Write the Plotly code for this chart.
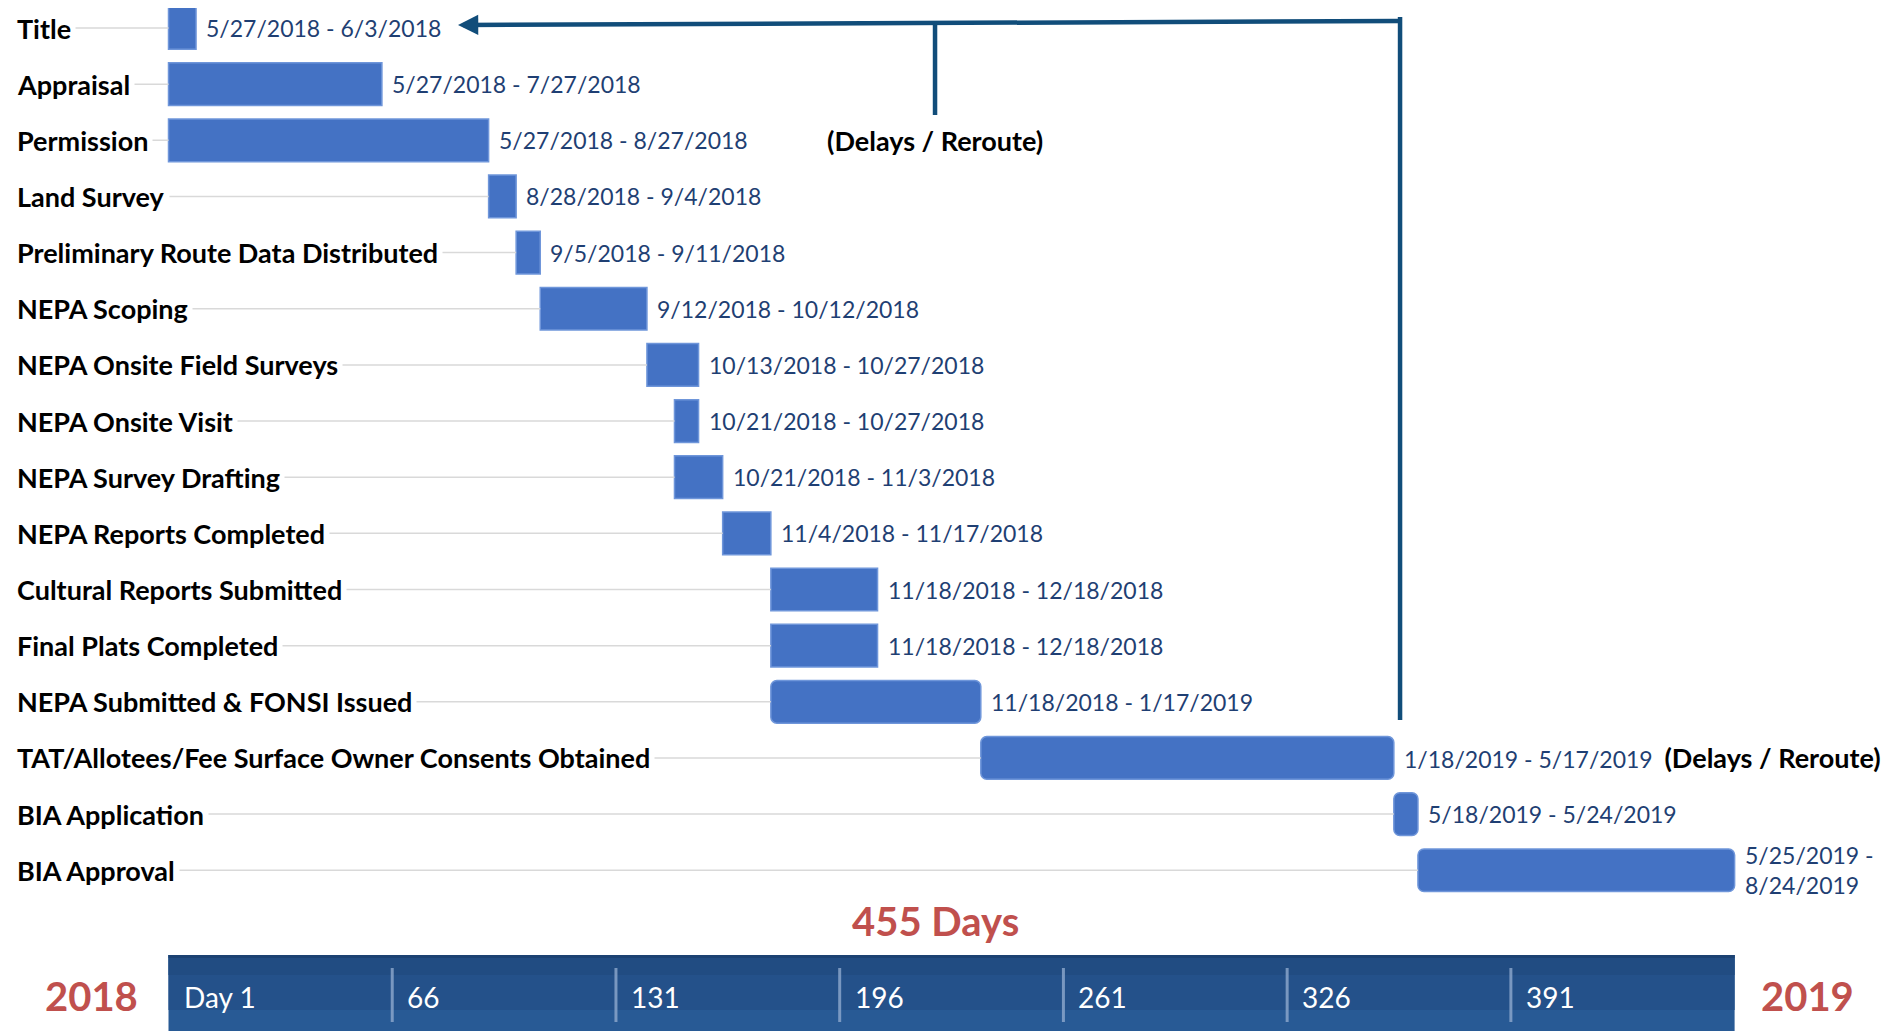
import pandas as pd
import plotly.graph_objects as go

# ---------------- data ----------------
TASKS = [
    "Title", "Appraisal", "Permission", "Land Survey",
    "Preliminary Route Data Distributed", "NEPA Scoping",
    "NEPA Onsite Field Surveys", "NEPA Onsite Visit", "NEPA Survey Drafting",
    "NEPA Reports Completed", "Cultural Reports Submitted", "Final Plats Completed",
    "NEPA Submitted & FONSI Issued",
    "TAT/Allotees/Fee Surface Owner Consents Obtained",
    "BIA Application", "BIA Approval",
]
START = [
    "2018-05-27", "2018-05-27", "2018-05-27", "2018-08-28",
    "2018-09-05", "2018-09-12", "2018-10-13", "2018-10-21",
    "2018-10-21", "2018-11-04", "2018-11-18", "2018-11-18",
    "2018-11-18", "2019-01-18", "2019-05-18", "2019-05-25",
]
END = [
    "2018-06-03", "2018-07-27", "2018-08-27", "2018-09-04",
    "2018-09-11", "2018-10-12", "2018-10-27", "2018-10-27",
    "2018-11-03", "2018-11-17", "2018-12-18", "2018-12-18",
    "2019-01-17", "2019-05-17", "2019-05-24", "2019-08-24",
]
DAY_TICKS = [0, 65, 130, 195, 260, 325, 390]
DAY_TICK_TEXT = ["Day 1", "66", "131", "196", "261", "326", "391"]
YEAR_LEFT, YEAR_RIGHT = "2018", "2019"
NOTE_TEXT = "(Delays / Reroute)"
NOTE_TASK = "TAT/Allotees/Fee Surface Owner Consents Obtained"

# ---------------- style / layout constants (reference-pixel based) ----------------
PAGE_W, PAGE_H = 1896, 1031
OFF = 8                         # browser body margin
W, H = PAGE_W - OFF, PAGE_H - OFF
PLOT_TOP_PX, PLOT_BOTTOM_PX = OFF, 908
DAY0_PX = 168.5                 # page pixel of day 0
PX_PER_DAY = 3.442
ROW0_PX, ROW_PX = 28, 56.15     # page pixel of first row centre, row pitch
MID_DAY = 222.7
WRAP_TASKS = {"BIA Approval"}
ROUND_TASKS = {"NEPA Submitted & FONSI Issued", NOTE_TASK, "BIA Application", "BIA Approval"}
BAR_COLOR = "#4472C4"
BAR_EDGE = "#6F96DA"
DATE_COLOR = "#1F3F73"
RED = "#C0504D"
NAVY = "#114D7A"
BAND = "#24518A"
FONT = "Lato"
LABEL_SIZE = 27
DATE_SIZE = 23


def py(px):   # page pixel from top -> paper y
    return (PLOT_BOTTOM_PX - px) / (PLOT_BOTTOM_PX - PLOT_TOP_PX)


def pxp(px):  # page pixel from left -> paper x
    return (px - OFF) / W


def dx(px):   # page pixel from left -> day value
    return (px - DAY0_PX) / PX_PER_DAY


start_dt = pd.to_datetime(pd.Series(START))
end_dt = pd.to_datetime(pd.Series(END))
origin = start_dt.min()
start_day = (start_dt - origin).dt.days.tolist()
end_day = ((end_dt - origin).dt.days + 1).tolist()      # inclusive end
dur = [e - s for s, e in zip(start_day, end_day)]
total_days = max(end_day)


def fmt(d):
    return f"{d.month}/{d.day}/{d.year}"


x_range = [dx(OFF), dx(PAGE_W)]
y_range = [(PLOT_BOTTOM_PX - ROW0_PX) / ROW_PX, (PLOT_TOP_PX - ROW0_PX) / ROW_PX]

fig = go.Figure()

# leader lines from labels to bars
line_start = dx(20)
gx, gy = [], []
for t, s in zip(TASKS, start_day):
    gx += [line_start, s, None]
    gy += [t, t, None]
fig.add_trace(go.Scatter(x=gx, y=gy, mode="lines", line=dict(color="#D9D9D9", width=1.5),
                         hoverinfo="skip", showlegend=False))

# bars (square and rounded)
for rounded in (False, True):
    idx = [i for i, t in enumerate(TASKS) if (t in ROUND_TASKS) == rounded]
    fig.add_trace(go.Bar(
        orientation="h",
        y=[TASKS[i] for i in idx],
        x=[dur[i] for i in idx],
        base=[start_day[i] for i in idx],
        width=0.76,
        marker=dict(color=BAR_COLOR, line=dict(color=BAR_EDGE, width=1.5),
                    cornerradius=6 if rounded else 0),
        showlegend=False, hoverinfo="skip",
    ))

ann = []
# category labels
for t in TASKS:
    ann.append(dict(x=pxp(12), xref="paper", y=t, yref="y", text=f"<b>{t}</b>",
                    xanchor="left", yanchor="middle", showarrow=False,
                    bgcolor="white", borderpad=4,
                    font=dict(family=FONT, size=LABEL_SIZE, color="black")))
# date labels
for t, s, e, ed in zip(TASKS, start_dt, end_dt, end_day):
    sep = " -<br>" if t in WRAP_TASKS else " - "
    txt = f"{fmt(s)}{sep}{fmt(e)}"
    if t == NOTE_TASK:
        txt += (f"  <b><span style='color:black;font-size:{LABEL_SIZE}px'>"
                f"{NOTE_TEXT}</span></b>")
    ann.append(dict(x=ed, xref="x", y=t, yref="y", text=txt, xanchor="left",
                    yanchor="middle", align="left", xshift=8, showarrow=False,
                    font=dict(family=FONT, size=DATE_SIZE, color=DATE_COLOR)))
# upper note
ann.append(dict(x=MID_DAY, xref="x", y=TASKS[2], yref="y", text=f"<b>{NOTE_TEXT}</b>",
                xanchor="center", yanchor="middle", showarrow=False,
                font=dict(family=FONT, size=LABEL_SIZE, color="black")))

# arrow back to the first task
vert_x = end_day[TASKS.index(NOTE_TASK)] + 1.8
tip_x = dx(458)
ann.append(dict(x=tip_x, xref="x", y=py(25), yref="paper", ax=vert_x, axref="x",
                ay=-4, ayref="pixel", text="", showarrow=True, arrowhead=2,
                arrowsize=0.9, arrowwidth=4.5, arrowcolor=NAVY, standoff=0))

# total days
ann.append(dict(x=MID_DAY, xref="x", y=py(921), yref="paper", text=f"<b>{total_days} Days</b>",
                xanchor="center", yanchor="middle", showarrow=False,
                font=dict(family=FONT, size=40, color=RED)))
# day tick labels in the band
for v, lab in zip(DAY_TICKS, DAY_TICK_TEXT):
    ann.append(dict(x=v, xref="x", y=py(997), yref="paper", text=lab, xanchor="left",
                    yanchor="middle", xshift=13, showarrow=False,
                    font=dict(family=FONT, size=28, color="white")))
# years
ann.append(dict(x=pxp(91), xref="paper", y=py(996), yref="paper", text=f"<b>{YEAR_LEFT}</b>",
                xanchor="center", yanchor="middle", showarrow=False,
                font=dict(family=FONT, size=40, color=RED)))
ann.append(dict(x=pxp(1807), xref="paper", y=py(996), yref="paper", text=f"<b>{YEAR_RIGHT}</b>",
                xanchor="center", yanchor="middle", showarrow=False,
                font=dict(family=FONT, size=40, color=RED)))

shapes = [
    # timeline band (slight vertical shading)
    dict(type="rect", xref="x", yref="paper", x0=0, x1=total_days, y0=py(955), y1=py(1040),
         fillcolor="#285A95", line=dict(width=0), layer="below"),
    dict(type="rect", xref="x", yref="paper", x0=0, x1=total_days, y0=py(955), y1=py(1010),
         fillcolor=BAND, line=dict(width=0), layer="below"),
    dict(type="rect", xref="x", yref="paper", x0=0, x1=total_days, y0=py(955), y1=py(975),
         fillcolor="#214C82", line=dict(width=0), layer="below"),
    dict(type="rect", xref="x", yref="paper", x0=0, x1=total_days, y0=py(955), y1=py(958),
         fillcolor="#1C4272", line=dict(width=0), layer="below"),
    # connector lines
    dict(type="line", xref="x", yref="paper", x0=vert_x, x1=vert_x, y0=py(720), y1=py(17),
         line=dict(color=NAVY, width=4.5)),
    dict(type="line", xref="x", yref="paper", x0=MID_DAY, x1=MID_DAY, y0=py(23), y1=py(115),
         line=dict(color=NAVY, width=4.5)),
]
for v in DAY_TICKS[1:]:
    shapes.append(dict(type="line", xref="x", yref="paper", x0=v, x1=v, y0=py(968), y1=py(1022),
                       line=dict(color="rgba(150,175,210,0.75)", width=3)))

fig.update_layout(
    width=W, height=H,
    margin=dict(l=0, r=0, t=0, b=H - (PLOT_BOTTOM_PX - OFF)),
    paper_bgcolor="white", plot_bgcolor="white",
    barmode="overlay",
    xaxis=dict(range=x_range, visible=False, fixedrange=True),
    yaxis=dict(categoryorder="array", categoryarray=TASKS, range=y_range,
               visible=False, fixedrange=True),
    annotations=ann, shapes=shapes,
    font=dict(family=FONT),
)
fig.write_html("out.html")
